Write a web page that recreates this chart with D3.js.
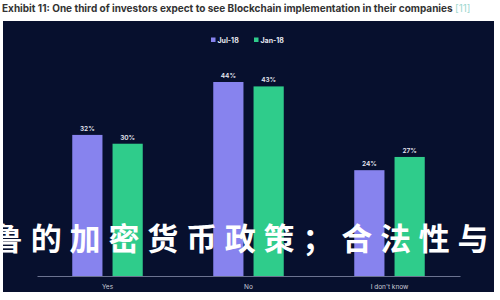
<!DOCTYPE html>
<html>
<head>
<meta charset="utf-8">
<script src="https://cdn.jsdelivr.net/npm/d3@7"></script>
<style>
  body { margin: 0; background: #fff; }
  svg { display: block; }
</style>
</head>
<body>
<svg id="chart" width="500" height="300"></svg>
<script>
const categories = ["Yes", "No", "I don't know"];
const seriesNames = ["Jul-18", "Jan-18"];
const jul18 = [32, 44, 24];
const jan18 = [30, 43, 27];
const colors = ["#8783ee", "#2fcc8b"];
const overlayText = "鲁的加密货币政策；合法性与";

const svg = d3.select("#chart");
const width = 500;
const height = 300;

// title
const title = svg.append("text")
  .attr("x", 2)
  .attr("y", 12)
  .style("font-family", "Inter, 'Open Sans', sans-serif")
  .style("font-size", "10px")
  .style("font-weight", 700)
  .attr("fill", "#333");
title.append("tspan").text("Exhibit 11: One third of investors expect to see Blockchain implementation in their companies ");
title.append("tspan").attr("fill", "#9fd8cf").style("font-weight", 400).text("[11]");

// dark panel
svg.append("rect")
  .attr("x", 3).attr("y", 21)
  .attr("width", 491).attr("height", 271)
  .attr("fill", "#07102e");

const margin = { left: 37, right: 40 };
const baseY = 276;

const x0 = d3.scaleBand()
  .domain(categories)
  .range([margin.left, width - margin.right])
  .paddingInner(0.5)
  .paddingOuter(0.25);

const x1 = d3.scaleBand()
  .domain(seriesNames)
  .range([0, x0.bandwidth()])
  .paddingInner(0.25)
  .paddingOuter(0);

const y = d3.scaleLinear()
  .domain([0, 44])
  .range([baseY, 82]);

const rows = categories.map((c, i) => ({ cat: c, values: [jul18[i], jan18[i]] }));

const groups = svg.append("g")
  .selectAll("g")
  .data(rows)
  .join("g")
  .attr("transform", (d) => `translate(${x0(d.cat)},0)`);

groups.selectAll("rect")
  .data((d) => d.values.map((v, j) => ({ name: seriesNames[j], v, j })))
  .join("rect")
  .attr("x", (d) => x1(d.name))
  .attr("y", (d) => y(d.v))
  .attr("width", x1.bandwidth())
  .attr("height", (d) => baseY - y(d.v))
  .attr("fill", (d) => colors[d.j]);

groups.selectAll("text")
  .data((d) => d.values.map((v, j) => ({ name: seriesNames[j], v, j })))
  .join("text")
  .attr("x", (d) => x1(d.name) + x1.bandwidth() / 2)
  .attr("y", (d) => y(d.v) - 4)
  .attr("text-anchor", "middle")
  .style("font-family", "Inter, sans-serif")
  .style("font-size", "6.5px")
  .style("font-weight", 600)
  .attr("fill", "#e8e8f2")
  .text((d) => d.v + "%");

// x axis
const axis = svg.append("g")
  .attr("transform", `translate(0,${baseY})`)
  .call(d3.axisBottom(x0).tickSize(0).tickPadding(8));
axis.select(".domain").attr("stroke", "#6b7390").attr("stroke-width", 1);
axis.selectAll("text")
  .style("font-family", "Inter, sans-serif")
  .style("font-size", "6.5px")
  .attr("fill", "#c9ccd8");

// legend
const legend = svg.append("g").attr("transform", "translate(211,40)");
const legendX = [0, 43];
seriesNames.forEach((name, i) => {
  const g = legend.append("g").attr("transform", `translate(${legendX[i]},0)`);
  g.append("rect").attr("x", 0).attr("y", -2.5).attr("width", 4.5).attr("height", 4.5).attr("fill", colors[i]);
  g.append("text")
    .attr("x", 6.5).attr("y", 2.5)
    .style("font-family", "Inter, sans-serif")
    .style("font-size", "7px")
    .style("font-weight", 700)
    .attr("fill", "#e6e8f0")
    .text(name);
});

// overlay watermark text
svg.append("text")
  .attr("x", -8)
  .attr("y", 250)
  .style("font-family", "'Noto Sans CJK SC', sans-serif")
  .style("font-size", "31px")
  .style("font-weight", 700)
  .style("letter-spacing", "7.8px")
  .attr("fill", "#ffffff")
  .text(overlayText);
</script>
</body>
</html>
